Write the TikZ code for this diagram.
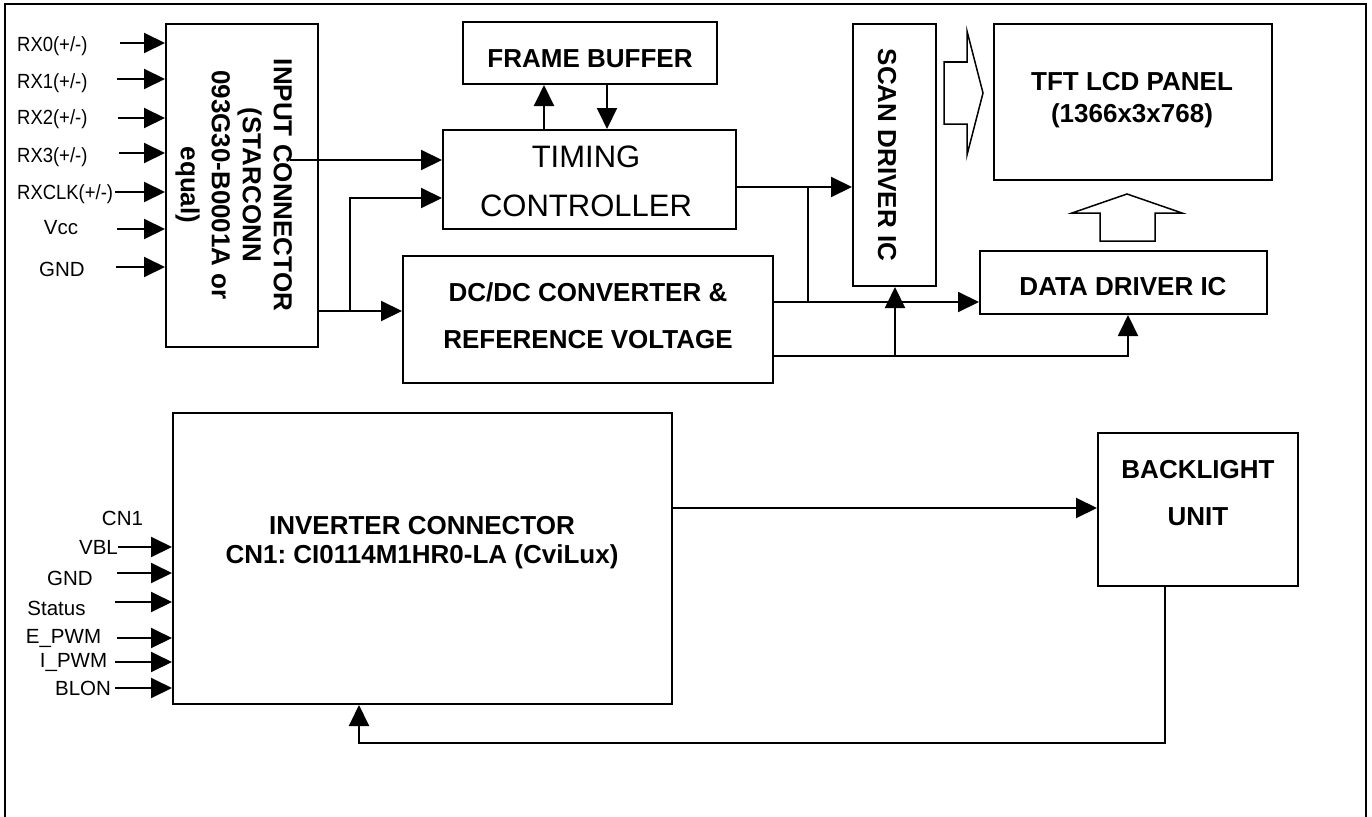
\documentclass[tikz,border=0pt]{standalone}
\usepackage{fontspec}
\setmainfont{Liberation Sans}
\newfontfamily\rxfont[FakeStretch=0.9]{Liberation Sans}
\usetikzlibrary{arrows.meta}
\frenchspacing
\tikzset{
  box/.style={draw, line width=2pt, inner sep=0pt},
  arr/.style={line width=2pt, -{Triangle[length=21pt,width=20pt]}},
  wire/.style={line width=2pt},
  lbl/.style={inner sep=0pt, font=\fontsize{20.5}{23}\selectfont},
  rxlbl/.style={inner sep=0pt, anchor=west, font=\rxfont\fontsize{20.5}{23}\selectfont},
  btext/.style={inner sep=0pt, align=center, font=\fontsize{26}{#1}\selectfont\bfseries},
  btext/.default=30,
  rtext/.style={inner sep=0pt, align=center, font=\fontsize{31}{#1}\selectfont},
  blockarrow/.style={draw, line width=1.5pt},
}
\begin{document}
\begin{tikzpicture}[x=1pt,y=-1pt]
\useasboundingbox (0,0) rectangle (1372,816);
\draw[wire] (5,820) -- (5,4) -- (1366,4) -- (1366,820);

% boxes
\node[box, minimum width=152pt, minimum height=323pt] (inp) at (242,185.5) {};
\node[box, minimum width=254pt, minimum height=62pt] (fb) at (590,53) {};
\node[box, minimum width=293pt, minimum height=99pt] (tc) at (589.5,179.5) {};
\node[box, minimum width=370pt, minimum height=127pt] (dc) at (588,319.5) {};
\node[box, minimum width=83pt, minimum height=262pt] (scan) at (894.5,155) {};
\node[box, minimum width=278pt, minimum height=156pt] (tft) at (1133,102) {};
\node[box, minimum width=287pt, minimum height=63pt] (dd) at (1123.5,282.5) {};
\node[box, minimum width=499pt, minimum height=291pt] (inv) at (422.5,558.5) {};
\node[box, minimum width=200pt, minimum height=153pt] (bl) at (1198,509.5) {};

% box texts
\node[btext=31, rotate=-90] (inpT) at (233.75,185) {INPUT CONNECTOR\\(STARCONN\\093G30-B0001A or\\equal)};
\node[btext] (fbT) at (590,59) {FRAME BUFFER};
\node[rtext=49] (tcT) at (586,181.5) {TIMING\\CONTROLLER};
\node[btext=47] (dcT) at (588,315.5) {DC/DC CONVERTER \&\\REFERENCE VOLTAGE};
\node[btext, rotate=-90] (scanT) at (887,155) {SCAN DRIVER IC};
\node[btext=32] (tftT) at (1132,99.75) {TFT LCD PANEL\\(1366x3x768)};
\node[btext] (ddT) at (1123,287) {DATA DRIVER IC};
\node[btext=29] (invT) at (422,543) {INVERTER CONNECTOR\\CN1: CI0114M1HR0-LA (CviLux)};
\node[btext=47] (blT) at (1198,493.5) {BACKLIGHT\\UNIT};

% input connector signals
\node[rxlbl] (l0) at (17,46) {RX0(+/-)};
\node[rxlbl] (l1) at (17,83) {RX1(+/-)};
\node[rxlbl] (l2) at (17,119) {RX2(+/-)};
\node[rxlbl] (l3) at (17,157) {RX3(+/-)};
\node[rxlbl] (l4) at (17,194) {RXCLK(+/-)};
\node[lbl] (l5) at (61,228) {Vcc};
\node[lbl] (l6) at (62,269) {GND};
\coordinate (s0) at (120,43);
\coordinate (s1) at (117,79);
\coordinate (s2) at (118,118);
\coordinate (s3) at (119,153);
\coordinate (s4) at (115,192);
\coordinate (s5) at (117,229);
\coordinate (s6) at (116,267);
\foreach \s in {s0,s1,s2,s3,s4,s5,s6} {\draw[arr] (\s) -- (\s -| inp.west);}

% inverter signals
\node[lbl] (cn1) at (122.5,518) {CN1};
\node[lbl] (vbl) at (98.5,547) {VBL};
\node[lbl] (gnd2) at (70,578) {GND};
\node[lbl] (st) at (56.5,608) {Status};
\node[lbl] (ep) at (63.5,638) {E\_PWM};
\node[lbl] (ip) at (73.5,662) {I\_PWM};
\node[lbl] (bln) at (83,688) {BLON};
\coordinate (t0) at (118,547);
\coordinate (t1) at (117,573);
\coordinate (t2) at (115,602);
\coordinate (t3) at (117,638);
\coordinate (t4) at (115,662);
\coordinate (t5) at (115,688);
\foreach \s in {t0,t1,t2,t3,t4,t5} {\draw[arr] (\s) -- (\s -| inv.west);}

% input connector -> timing controller / dcdc
\coordinate (tapA) at (290,160);
\draw[arr] (tapA) -- (tapA -| tc.west);
\coordinate (j1) at (350,311);
\coordinate (j1t) at (350,198);
\draw[arr] (j1) -- (j1t) -- (j1t -| tc.west);
\draw[arr] (inp.east |- j1) -- (dc.west |- j1);

% frame buffer
\coordinate (fa) at (544,0);
\coordinate (fd) at (607,0);
\draw[arr] (fa |- tc.north) -- (fa |- fb.south);
\draw[arr] (fd |- fb.south) -- (fd |- tc.north);

% timing -> scan, dcdc -> data driver
\coordinate (j2) at (808,187);
\coordinate (j3) at (808,302);
\draw[arr] (tc.east |- j2) -- (scan.west |- j2);
\draw[wire] (j2) -- (j3);
\draw[arr] (dc.east |- j3) -- (dd.west |- j3);
\coordinate (j4) at (895,356);
\coordinate (j5) at (1128,356);
\draw[arr] (dc.east |- j4) -- (j5) -- (j5 |- dd.south);
\draw[arr] (j4) -- (j4 |- scan.south);

% block arrows
\draw[blockarrow] (944,62) -- (967,62) -- (967,31) -- (983,93) -- (967,155) -- (967,124) -- (944,124) -- cycle;
\draw[blockarrow] (1100,241) -- (1100,213) -- (1072,213) -- (1127,194) -- (1182,213) -- (1155,213) -- (1155,241) -- cycle;

% inverter -> backlight and feedback
\coordinate (j6) at (0,508);
\draw[arr] (inv.east |- j6) -- (bl.west |- j6);
\coordinate (fk1) at (1165,743);
\coordinate (fk2) at (359,743);
\draw[arr] (fk1 |- bl.south) -- (fk1) -- (fk2) -- (fk2 |- inv.south);
\end{tikzpicture}
\end{document}
